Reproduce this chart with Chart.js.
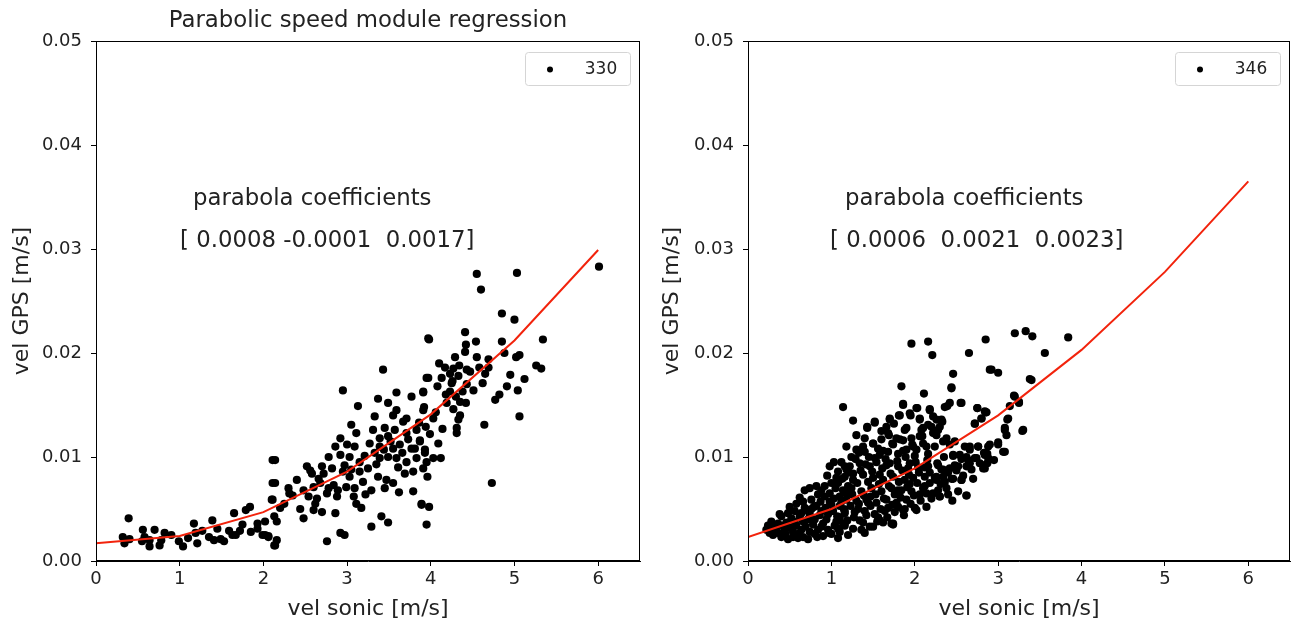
<!DOCTYPE html>
<html>
<head>
<meta charset="utf-8">
<script src="https://cdn.jsdelivr.net/npm/chart.js@4"></script>
<style>
  body { margin: 0; background: #fff; }
  .panel { position: absolute; top: 0; }
</style>
</head>
<body>
<div class="panel" style="left:0px"><canvas id="left" width="645" height="624"></canvas></div>
<div class="panel" style="left:650px"><canvas id="right" width="641" height="624"></canvas></div>
<script>
// x = vel sonic [m/s], y = vel GPS [m/s]
var yTickLabels = ['0.00', '0.01', '0.02', '0.03', '0.04', '0.05'];
var fitX = [0, 1, 2, 3, 4, 5, 6];
var leftFitY = [0.0017, 0.0024, 0.0047, 0.0086, 0.0141, 0.0212, 0.0299];
var rightFitY = [0.0023, 0.0050, 0.0089, 0.0140, 0.0203, 0.0278, 0.0365];
var leftCoefs = '[ 0.0008 -0.0001  0.0017]';
var rightCoefs = '[ 0.0006  0.0021  0.0023]';

var leftPoints = [
  [0.39,0.0041],[0.32,0.0023],[0.34,0.0017],[0.40,0.0021],[0.56,0.0030],[0.58,0.0023],[0.64,0.0020],
  [0.64,0.0014],[0.70,0.0030],[0.76,0.0015],[0.78,0.0020],[0.82,0.0027],[0.99,0.0019],[1.04,0.0014],
  [1.17,0.0036],[1.19,0.0027],[1.21,0.0017],[1.27,0.0029],[1.35,0.0023],[1.39,0.0039],[1.41,0.0020],
  [1.49,0.0021],[1.53,0.0019],[1.59,0.0029],[1.63,0.0025],[1.65,0.0046],[1.67,0.0025],[1.75,0.0035],
  [1.79,0.0049],[1.84,0.0052],[1.85,0.0028],[1.93,0.0036],[1.93,0.0031],[1.99,0.0025],[2.06,0.0023],
  [2.11,0.0097],[2.11,0.0075],[2.10,0.0059],[2.13,0.0015],[2.13,0.0043],
  [3.97,0.0214],[3.43,0.0184],[2.95,0.0164],[3.59,0.0162],[3.95,0.0176],[3.91,0.0162],[3.37,0.0156],
  [3.49,0.0152],[3.13,0.0149],[3.77,0.0158],[3.33,0.0139],[3.59,0.0145],[3.71,0.0137],[3.91,0.0145],
  [3.67,0.0134],[3.45,0.0128],[3.31,0.0126],[3.57,0.0126],[3.11,0.0123],[2.92,0.0118],[3.39,0.0118],
  [3.49,0.0120],[3.71,0.0123],[3.83,0.0126],[3.87,0.0116],[2.86,0.0110],[3.00,0.0112],[3.09,0.0110],
  [3.39,0.0110],[3.55,0.0108],[3.63,0.0112],[3.77,0.0108],[3.93,0.0107],[2.78,0.0100],[2.92,0.0102],
  [3.03,0.0100],[3.15,0.0095],[3.33,0.0104],[3.39,0.0099],[3.49,0.0100],[3.59,0.0099],[3.71,0.0095],
  [3.83,0.0099],[3.95,0.0095],[2.52,0.0091],[2.58,0.0084],[2.72,0.0084],[2.82,0.0089],[2.95,0.0086],
  [3.03,0.0081],[3.15,0.0086],[3.25,0.0089],[3.37,0.0081],[3.47,0.0078],[3.55,0.0075],[3.69,0.0084],
  [3.79,0.0086],[2.30,0.0070],[2.31,0.0065],[2.48,0.0068],[2.60,0.0071],[2.68,0.0075],[2.78,0.0070],
  [2.89,0.0068],[2.99,0.0071],[3.09,0.0070],[3.19,0.0076],[3.29,0.0068],[3.45,0.0070],[3.79,0.0067],
  [2.54,0.0062],[2.64,0.0060],[2.76,0.0065],[2.88,0.0062],[3.08,0.0062],[3.11,0.0055],[2.62,0.0055],
  [2.11,0.0059],[2.20,0.0051],[2.14,0.0097],[2.14,0.0075],[2.60,0.0049],[2.70,0.0047],[2.48,0.0041],
  [2.86,0.0046],[3.17,0.0051],[3.89,0.0054],[3.95,0.0035],[3.41,0.0043],[3.49,0.0037],[3.29,0.0033],
  [2.92,0.0027],[2.97,0.0025],[2.76,0.0019],[2.16,0.0038],[2.16,0.0020],[2.14,0.0015],[2.02,0.0025],
  [2.06,0.0024],[2.02,0.0038],
  [4.55,0.0276],[5.03,0.0277],[4.60,0.0261],[6.01,0.0283],[4.85,0.0238],[5.00,0.0232],[3.98,0.0213],
  [4.41,0.0220],[4.54,0.0211],[4.85,0.0211],[5.34,0.0213],[4.42,0.0208],[4.41,0.0201],[4.29,0.0196],
  [4.55,0.0196],[4.69,0.0194],[5.02,0.0196],[5.06,0.0198],[4.10,0.0190],[4.17,0.0186],[4.27,0.0185],
  [4.34,0.0188],[4.43,0.0184],[4.69,0.0186],[5.26,0.0188],[5.32,0.0185],[3.97,0.0176],[4.13,0.0176],
  [4.23,0.0180],[4.33,0.0178],[4.65,0.0180],[4.08,0.0168],[4.25,0.0171],[4.43,0.0170],[4.51,0.0164],
  [4.91,0.0168],[3.91,0.0163],[4.23,0.0163],[4.30,0.0158],[4.77,0.0155],[4.82,0.0160],[5.04,0.0164],
  [3.92,0.0148],[4.19,0.0152],[4.35,0.0153],[4.42,0.0152],[4.03,0.0137],[4.27,0.0146],[4.35,0.0140],
  [4.33,0.0136],[4.64,0.0131],[5.06,0.0139],[3.94,0.0129],[4.14,0.0127],[4.31,0.0128],[4.31,0.0123],
  [3.87,0.0115],[4.09,0.0113],[3.93,0.0104],[4.03,0.0099],[4.12,0.0099],[3.91,0.0089],[3.96,0.0081],
  [4.73,0.0075],[3.89,0.0055],[3.98,0.0052],
  [2.40,0.0078],[2.66,0.0079],[2.84,0.0073],[2.97,0.0092],[3.05,0.0088],[3.21,0.0101],[3.27,0.0113],
  [3.35,0.0093],[3.44,0.0107],[3.52,0.0115],[3.61,0.0090],[3.66,0.0104],[3.73,0.0117],[3.81,0.0108],
  [3.86,0.0133],[3.99,0.0122],[4.06,0.0143],[4.18,0.0160],[4.26,0.0173],[4.38,0.0163],[4.47,0.0182],
  [4.58,0.0186],[4.62,0.0171],[4.95,0.0179],[4.88,0.0200],[5.12,0.0175],[3.05,0.0131],[3.55,0.0140],
  [2.56,0.0087],[2.70,0.0091],[3.22,0.0064],[3.62,0.0066],[1.10,0.0022],[0.55,0.0019],[0.90,0.0025],
  [1.45,0.0031],[1.72,0.0029],[2.25,0.0055],[2.35,0.0063],[2.44,0.0050]
];

var rightPoints = [
  [1.96,0.0209],[2.16,0.0211],[2.21,0.0198],[2.85,0.0213],[2.65,0.0200],[2.46,0.0180],[2.90,0.0184],
  [1.84,0.0168],[2.11,0.0161],[2.44,0.0166],[2.42,0.0152],[2.56,0.0152],[1.86,0.0151],[2.02,0.0147],
  [2.36,0.0148],[2.75,0.0147],[2.84,0.0144],[2.18,0.0145],[1.70,0.0137],[1.81,0.0140],[1.94,0.0142],
  [2.06,0.0137],[2.22,0.0139],[2.32,0.0136],[1.52,0.0133],[1.43,0.0129],[1.66,0.0129],[1.90,0.0128],
  [2.10,0.0128],[2.20,0.0129],[2.30,0.0129],[2.72,0.0132],[2.80,0.0137],[1.69,0.0121],[2.06,0.0120],
  [2.26,0.0121],[2.38,0.0118],[2.66,0.0110],[2.76,0.0110],[2.88,0.0110],[1.50,0.0113],[1.74,0.0112],
  [1.86,0.0116],[1.98,0.0110],[2.14,0.0110],[1.38,0.0110],[2.46,0.0102],[2.54,0.0102],[2.62,0.0100],
  [2.72,0.0099],[2.84,0.0089],[2.78,0.0094],[2.66,0.0094],[2.34,0.0088],[2.48,0.0092],[2.26,0.0081],
  [2.36,0.0076],[2.46,0.0079],[2.56,0.0078],[2.30,0.0062],[2.62,0.0063],[2.14,0.0065],[2.14,0.0052],
  [2.02,0.0049],[1.86,0.0049],[1.74,0.0036],[1.58,0.0039],[1.46,0.0033],[1.34,0.0039],
  [1.03,0.0095],[0.98,0.0091],[1.08,0.0086],[1.16,0.0091],[1.00,0.0075],[1.08,0.0075],[0.82,0.0072],
  [0.74,0.0070],[0.68,0.0068],[0.98,0.0065],[0.92,0.0062],[1.10,0.0062],[1.18,0.0065],[0.76,0.0059],
  [0.58,0.0055],[0.68,0.0051],[0.82,0.0053],[1.00,0.0054],[1.10,0.0053],[0.48,0.0046],[0.40,0.0043],
  [0.56,0.0048],[0.64,0.0046],[0.74,0.0045],[0.88,0.0048],[0.96,0.0045],[1.16,0.0046],[0.28,0.0038],
  [0.36,0.0036],[0.46,0.0037],[0.56,0.0038],[0.66,0.0038],[0.80,0.0040],[0.90,0.0036],[1.06,0.0038],
  [0.34,0.0030],[0.44,0.0030],[0.54,0.0028],[0.64,0.0030],[0.74,0.0028],[0.84,0.0030],[0.96,0.0030],
  [1.08,0.0031],[0.40,0.0023],[0.54,0.0023],[0.66,0.0023],[0.83,0.0023],[0.24,0.0034],[1.16,0.0036],
  [0.22,0.0030],[0.26,0.0027],[0.30,0.0025],[0.48,0.0021],[0.60,0.0022],[0.72,0.0021],[0.90,0.0024],
  [1.00,0.0026],[1.72,0.0036],[1.16,0.0034],
  [1.14,0.0148],[1.26,0.0135],[1.52,0.0134],[1.43,0.0128],[1.86,0.0150],[2.03,0.0147],[2.18,0.0146],
  [1.82,0.0140],[1.95,0.0140],[1.70,0.0136],[2.06,0.0136],[2.16,0.0131],[1.88,0.0126],[1.68,0.0123],
  [2.08,0.0126],[2.22,0.0123],[1.30,0.0121],[1.50,0.0113],[1.60,0.0117],[1.73,0.0113],[1.82,0.0117],
  [1.96,0.0118],[2.10,0.0113],[1.18,0.0110],[1.30,0.0107],[1.40,0.0105],[1.58,0.0102],[1.68,0.0105],
  [1.80,0.0103],[1.90,0.0107],[2.02,0.0107],[2.16,0.0103],[1.12,0.0095],[1.22,0.0091],[1.34,0.0094],
  [1.46,0.0091],[1.54,0.0095],[1.66,0.0092],[1.80,0.0091],[1.94,0.0094],[2.04,0.0090],[2.16,0.0091],
  [2.28,0.0092],[1.16,0.0081],[1.26,0.0078],[1.38,0.0083],[1.50,0.0080],[1.62,0.0078],[1.74,0.0081],
  [1.88,0.0078],[1.98,0.0080],[2.12,0.0081],[2.24,0.0080],[1.14,0.0068],[1.24,0.0070],[1.36,0.0067],
  [1.48,0.0070],[1.60,0.0067],[1.72,0.0070],[1.84,0.0068],[1.96,0.0067],[2.10,0.0070],[2.22,0.0065],
  [1.18,0.0059],[1.30,0.0058],[1.42,0.0059],[1.54,0.0056],[1.66,0.0059],[1.78,0.0056],[1.90,0.0059],
  [2.00,0.0051],[1.88,0.0050],[1.16,0.0048],[1.28,0.0047],[1.40,0.0048],[1.52,0.0045],[1.64,0.0048],
  [1.76,0.0047],[1.14,0.0036],[1.26,0.0031],[1.38,0.0037],[1.50,0.0033],[1.62,0.0037],[1.74,0.0035],
  [1.10,0.0028],
  [2.44,0.0167],[2.39,0.0149],[2.55,0.0152],[2.75,0.0147],[2.85,0.0143],[3.19,0.0159],[3.25,0.0152],
  [3.40,0.0174],[2.26,0.0136],[2.33,0.0134],[2.80,0.0137],[2.72,0.0132],[3.11,0.0136],[3.08,0.0126],
  [3.10,0.0121],[3.30,0.0126],[2.28,0.0126],[2.34,0.0115],[2.42,0.0112],[2.48,0.0115],[2.60,0.0110],
  [2.66,0.0107],[2.76,0.0110],[2.90,0.0112],[3.00,0.0114],[3.08,0.0105],[2.84,0.0102],[2.74,0.0099],
  [2.64,0.0097],[2.56,0.0098],[2.46,0.0101],[2.88,0.0099],[2.82,0.0089],[2.62,0.0091],[2.52,0.0091],
  [2.42,0.0089],[2.32,0.0088],[2.56,0.0078],[2.44,0.0079],[2.34,0.0081],[2.26,0.0078],[2.38,0.0070],
  [2.28,0.0068],[2.40,0.0064],[2.30,0.0062],[2.62,0.0063],
  [3.20,0.0219],[3.33,0.0221],[3.41,0.0216],[3.84,0.0215],[3.56,0.0200],[2.92,0.0184],[3.00,0.0181],
  [3.38,0.0175],[3.20,0.0158],[3.14,0.0149],[3.25,0.0153],[2.86,0.0143],[3.12,0.0137],[3.08,0.0128],
  [3.29,0.0125],[3.00,0.0112],[3.06,0.0105],[2.83,0.0104],[2.87,0.0103],[2.83,0.0092],[2.87,0.0094],
  [0.31,0.0033],[0.36,0.0027],[0.42,0.0034],[0.45,0.0026],[0.50,0.0032],[0.52,0.0041],[0.58,0.0034],
  [0.61,0.0026],[0.62,0.0043],[0.69,0.0033],[0.70,0.0049],[0.72,0.0040],[0.78,0.0035],[0.79,0.0052],
  [0.80,0.0026],[0.86,0.0044],[0.87,0.0057],[0.88,0.0033],[0.93,0.0051],[0.94,0.0040],[0.97,0.0027],
  [1.02,0.0048],[1.03,0.0060],[1.04,0.0034],[1.05,0.0070],[1.07,0.0043],[1.12,0.0057],[1.13,0.0079],
  [1.15,0.0050],[1.19,0.0039],[1.20,0.0072],[1.21,0.0085],[1.23,0.0053],[1.25,0.0064],[1.27,0.0042],
  [1.29,0.0098],[1.31,0.0075],[1.33,0.0055],[1.35,0.0087],[1.36,0.0030],[1.39,0.0063],[1.42,0.0044],
  [1.44,0.0076],[1.45,0.0100],[1.47,0.0053],[1.49,0.0086],[1.53,0.0064],[1.55,0.0038],[1.56,0.0108],
  [1.57,0.0074],[1.59,0.0050],[1.61,0.0089],[1.63,0.0060],[1.65,0.0098],[1.67,0.0042],[1.69,0.0072],
  [1.71,0.0084],[1.73,0.0054],[1.76,0.0064],[1.78,0.0118],[1.79,0.0096],[1.81,0.0076],[1.83,0.0061],
  [1.85,0.0087],[1.87,0.0044],[1.89,0.0100],[1.91,0.0071],[1.93,0.0083],[1.95,0.0055],[1.97,0.0112],
  [1.99,0.0063],[2.01,0.0095],[2.03,0.0075],[2.05,0.0085],[2.07,0.0058],[2.09,0.0120],[2.12,0.0072],
  [2.15,0.0097],[2.18,0.0085],[2.20,0.0060],[2.24,0.0110],[2.27,0.0094],[2.31,0.0074],[2.35,0.0100],
  [2.40,0.0085],[2.50,0.0087],[2.58,0.0082],[2.68,0.0088],[2.70,0.0079],[2.95,0.0097],[2.52,0.0067],
  [2.45,0.0058],[1.08,0.0022],[1.20,0.0025],[1.40,0.0027],[0.95,0.0082],[0.88,0.0068],[0.62,0.0061],
  [0.50,0.0052],[0.38,0.0045],[1.60,0.0125],[1.75,0.0132],[1.40,0.0118],
  [0.92,0.0072],[1.06,0.0080],[1.18,0.0088],[1.24,0.0100],[1.33,0.0104],[1.41,0.0093],[1.52,0.0099],
  [1.62,0.0106],[1.70,0.0094],[1.86,0.0106],[1.92,0.0089],[2.00,0.0101],[2.12,0.0090],[1.26,0.0084],
  [1.47,0.0062],[1.58,0.0083],[1.68,0.0051],[1.80,0.0068],[1.94,0.0074],[2.06,0.0064],[2.18,0.0075],
  [1.10,0.0042],[1.32,0.0050],[1.44,0.0056],[1.56,0.0042],[1.80,0.0052],[0.98,0.0057],[0.84,0.0064],
  [0.76,0.0050],[0.66,0.0057]
];

function toXY(pairs) {
  return pairs.map(function (p) { return { x: p[0], y: p[1] }; });
}
function fitLine(ys) {
  return fitX.map(function (x, i) { return { x: x, y: ys[i] }; });
}

var font = 'DejaVu Sans';
var tickSize = 18;
var labelSize = 22;
var textSize = 22.8;

// matplotlib style frame, title, legend box and coefficient text
var annotPlugin = {
  id: 'annot',
  afterDraw: function (chart, args, opts) {
    var ctx = chart.ctx;
    var ca = chart.chartArea;
    ctx.save();
    ctx.strokeStyle = '#000';
    ctx.lineWidth = 1;
    ctx.strokeRect(ca.left + 0.5, ca.top + 0.5, ca.right - ca.left - 1, ca.bottom - ca.top - 1);

    ctx.fillStyle = '#222';
    ctx.font = textSize + 'px "' + font + '"';
    ctx.textBaseline = 'middle';
    if (opts.title) {
      ctx.textAlign = 'center';
      ctx.fillText(opts.title, (ca.left + ca.right) / 2, ca.top - 20);
    }
    ctx.textAlign = 'left';
    ctx.fillText('parabola coefficients', ca.left + 97, ca.top + 158);
    ctx.fillText(opts.coefs, ca.left + opts.coefX, ca.top + 200);

    // legend
    var bw = 105, bh = 33;
    var bx = ca.right - 10 - bw, by = ca.top + 11;
    ctx.beginPath();
    ctx.roundRect(bx + 0.5, by + 0.5, bw, bh, 3);
    ctx.fillStyle = 'rgba(255,255,255,0.8)';
    ctx.fill();
    ctx.strokeStyle = '#d5d5d5';
    ctx.stroke();
    ctx.fillStyle = '#000';
    ctx.beginPath();
    ctx.arc(bx + 25, by + bh / 2 + 1, 3, 0, Math.PI * 2);
    ctx.fill();
    ctx.fillStyle = '#222';
    ctx.font = '17px "' + font + '"';
    ctx.textAlign = 'center';
    ctx.fillText(opts.label, bx + 76, by + bh / 2 + 1);
    ctx.restore();
  }
};

function makeChart(id, points, fitY, yAxisWidth, padRight, opts) {
  return new Chart(document.getElementById(id), {
    type: 'scatter',
    data: {
      datasets: [
        {
          label: 'fit',
          data: fitLine(fitY),
          showLine: true,
          borderColor: '#f2230c',
          borderWidth: 2,
          pointRadius: 0,
          tension: 0,
          order: 0
        },
        {
          label: opts.label,
          data: toXY(points),
          backgroundColor: '#000',
          borderWidth: 0,
          pointRadius: 4.1,
          order: 1
        }
      ]
    },
    options: {
      responsive: false,
      animation: false,
      layout: { autoPadding: false, padding: { top: 41, right: padRight, left: 0, bottom: 0 } },
      plugins: {
        legend: { display: false },
        tooltip: { enabled: false },
        annot: opts
      },
      scales: {
        x: {
          type: 'linear',
          min: 0,
          max: 6.5,
          afterFit: function (s) { s.height = 63; },
          ticks: {
            stepSize: 1,
            includeBounds: false,
            color: '#222',
            padding: 3,
            font: { family: font, size: tickSize },
            maxRotation: 0
          },
          grid: { drawOnChartArea: false, tickLength: 5, color: '#000' },
          border: { color: '#000' },
          title: {
            display: true,
            text: 'vel sonic [m/s]',
            color: '#222',
            font: { family: font, size: labelSize },
            padding: { top: 0, bottom: 2 }
          }
        },
        y: {
          type: 'linear',
          min: 0,
          max: 0.05,
          afterFit: function (s) { s.width = yAxisWidth; },
          ticks: {
            stepSize: 0.01,
            color: '#222',
            padding: 9,
            font: { family: font, size: tickSize },
            callback: function (v) { return yTickLabels[Math.round(v / 0.01)]; }
          },
          grid: { drawOnChartArea: false, tickLength: 5, color: '#000' },
          border: { color: '#000' },
          title: {
            display: true,
            text: 'vel GPS [m/s]',
            color: '#222',
            font: { family: font, size: labelSize },
            padding: { top: 9, bottom: 0 }
          }
        }
      }
    },
    plugins: [annotPlugin]
  });
}

makeChart('left', leftPoints, leftFitY, 96, 5,
  { title: 'Parabolic speed module regression', coefs: leftCoefs, coefX: 84, label: '330' });
makeChart('right', rightPoints, rightFitY, 98, 1,
  { title: '', coefs: rightCoefs, coefX: 82, label: '346' });
</script>
</body>
</html>
